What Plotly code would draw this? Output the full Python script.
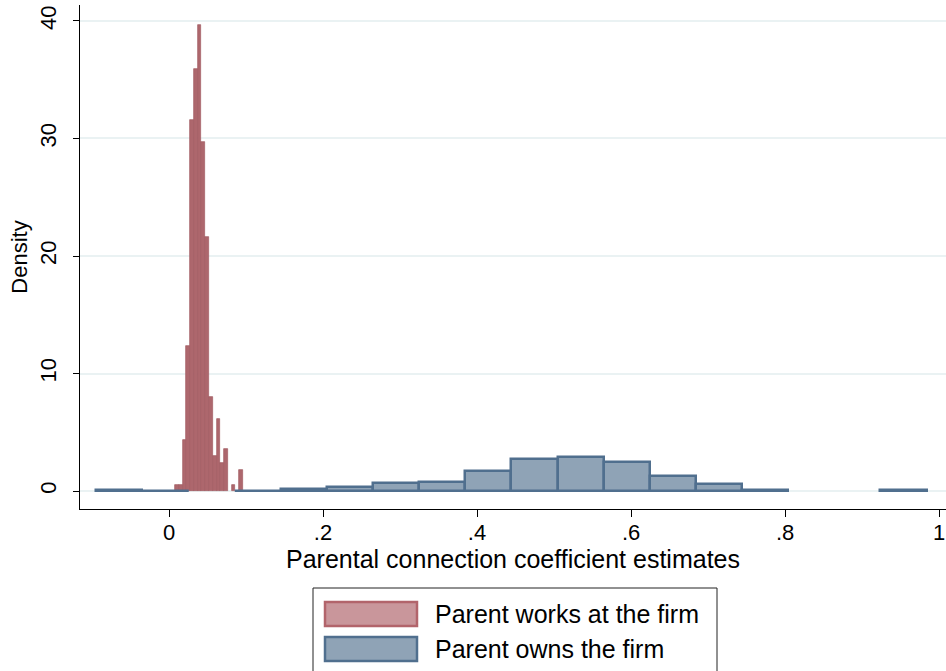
import plotly.graph_objects as go

# Histogram of parental connection coefficient estimates (density scale)
works_start = 0.0078
works_width = 0.0049
works_density = [0.55, 0.55, 4.3, 12.3, 31.6, 35.9, 39.7, 29.7, 21.6, 8.0,
                 3.0, 6.1, 2.4, 3.6, 0.0, 0.55, 0.0, 1.8]

owns_start = -0.0945
owns_width = 0.0599
owns_density = [0.12, 0.04, 0.0, 0.04, 0.13, 0.32, 0.65, 0.73, 1.67, 2.76,
                2.89, 2.43, 1.24, 0.56, 0.1, 0.0, 0.0, 0.1]

series_names = ["Parent works at the firm", "Parent owns the firm"]
x_ticks = [0, 0.2, 0.4, 0.6, 0.8, 1.0]
x_tick_labels = ["0", ".2", ".4", ".6", ".8", "1"]
y_ticks = [0, 10, 20, 30, 40]
y_tick_labels = ["0", "10", "20", "30", "40"]
x_title = "Parental connection coefficient estimates"
y_title = "Density"

FONT = "Liberation Sans, Arial, Helvetica, sans-serif"
RED_FILL, RED_LINE = "#AD676D", "#A15A61"
RED_KEY_FILL, RED_KEY_LINE = "#C9969B", "#B2646B"
BLUE_FILL, BLUE_LINE = "#8FA3B6", "#506F8E"

W, H = 946, 671
M_L, M_R, M_T, M_B = 80, 0, 5, 162


def centers(start, width, n):
    return [start + width * (i + 0.5) for i in range(n)]


def nonzero(vals):
    return [v if v > 0 else None for v in vals]


fig = go.Figure()
fig.add_trace(go.Bar(
    x=centers(works_start, works_width, len(works_density)),
    y=nonzero(works_density),
    width=works_width,
    name=series_names[0],
    marker=dict(color=RED_FILL, line=dict(color=RED_LINE, width=0.7)),
    showlegend=False,
))
fig.add_trace(go.Bar(
    x=centers(owns_start, owns_width, len(owns_density)),
    y=nonzero(owns_density),
    width=owns_width,
    name=series_names[1],
    marker=dict(color=BLUE_FILL, line=dict(color=BLUE_LINE, width=2.5)),
    showlegend=False,
))

# pixel -> paper coordinate helpers for the legend block under the axis
plot_w = W - M_L - M_R
plot_h = H - M_T - M_B


def px(x):
    return (x - M_L) / plot_w


def py(y):
    return (H - M_B - y) / plot_h


shapes = [
    dict(type="rect", xref="paper", yref="paper",
         x0=px(313), x1=px(717), y0=py(588), y1=py(675),
         line=dict(color="#222222", width=1), fillcolor="white", layer="above"),
]
keys = [(RED_KEY_FILL, RED_KEY_LINE, 602, 626), (BLUE_FILL, BLUE_LINE, 637, 661)]
annotations = []
for (fill, line, y0, y1), name in zip(keys, series_names):
    shapes.append(dict(type="rect", xref="paper", yref="paper",
                       x0=px(325), x1=px(417), y0=py(y1), y1=py(y0),
                       line=dict(color=line, width=2.5), fillcolor=fill, layer="above"))
    annotations.append(dict(xref="paper", yref="paper", x=px(433), y=py((y0 + y1) / 2),
                            text=name, showarrow=False, xanchor="left", yanchor="middle",
                            font=dict(family=FONT, size=25, color="black")))

fig.update_layout(
    width=W, height=H, autosize=False,
    margin=dict(l=M_L, r=M_R, t=M_T, b=M_B, pad=0),
    paper_bgcolor="white", plot_bgcolor="white",
    barmode="overlay", bargap=0,
    font=dict(family=FONT, color="black"),
    shapes=shapes, annotations=annotations,
    xaxis=dict(
        range=[-0.1156, 1.009],
        tickvals=x_ticks, ticktext=x_tick_labels,
        ticks="outside", ticklen=7, tickwidth=1.3, tickcolor="black",
        showline=True, linecolor="black", linewidth=1.3,
        showgrid=False, zeroline=False,
        tickfont=dict(size=22), ticklabelstandoff=-4,
        title=dict(text=x_title, font=dict(size=25), standoff=4),
    ),
    yaxis=dict(
        range=[-1.53, 41.36],
        tickvals=y_ticks, ticktext=y_tick_labels, tickangle=-90,
        ticks="outside", ticklen=6, tickwidth=1.3, tickcolor="black",
        showline=True, linecolor="black", linewidth=1.3,
        showgrid=True, gridcolor="#EAF2F3", gridwidth=1.5, zeroline=False,
        tickfont=dict(size=22), ticklabelstandoff=8,
        title=dict(text=y_title, font=dict(size=22), standoff=2),
    ),
)

fig.write_html("out.html")
